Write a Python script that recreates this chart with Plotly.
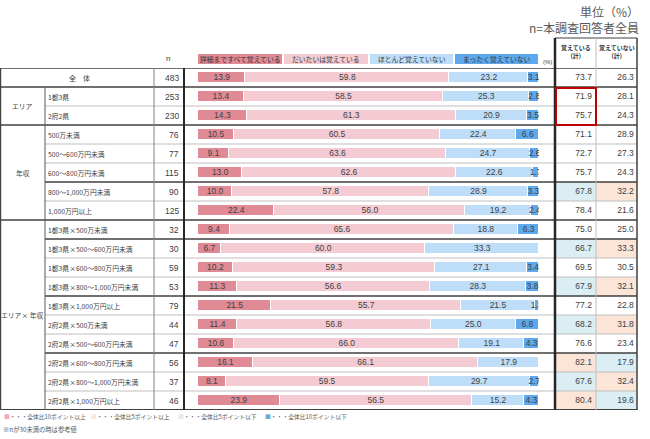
import plotly.graph_objects as go

W, H = 650, 439

labels = ["全　体", "1都3県", "2府2県", "500万未満", "500～600万円未満", "600～800万円未満",
          "800～1,000万円未満", "1,000万円以上",
          "1都3県×500万未満", "1都3県×500～600万円未満", "1都3県×600～800万円未満",
          "1都3県×800～1,000万円未満", "1都3県×1,000万円以上",
          "2府2県×500万未満", "2府2県×500～600万円未満", "2府2県×600～800万円未満",
          "2府2県×800～1,000万円未満", "2府2県×1,000万円以上"]
n_vals = [483, 253, 230, 76, 77, 115, 90, 125, 32, 30, 59, 53, 79, 44, 47, 56, 37, 46]
detail = [13.9, 13.4, 14.3, 10.5, 9.1, 13.0, 10.0, 22.4, 9.4, 6.7, 10.2, 11.3, 21.5, 11.4, 10.6, 16.1, 8.1, 23.9]
mostly = [59.8, 58.5, 61.3, 60.5, 63.6, 62.6, 57.8, 56.0, 65.6, 60.0, 59.3, 56.6, 55.7, 56.8, 66.0, 66.1, 59.5, 56.5]
hardly = [23.2, 25.3, 20.9, 22.4, 24.7, 22.6, 28.9, 19.2, 18.8, 33.3, 27.1, 28.3, 21.5, 25.0, 19.1, 17.9, 29.7, 15.2]
never = [3.1, 2.8, 3.5, 6.6, 2.6, 1.7, 3.3, 2.4, 6.3, 0.0, 3.4, 3.8, 1.3, 6.8, 4.3, 0.0, 2.7, 4.3]
remember_total = [73.7, 71.9, 75.7, 71.1, 72.7, 75.7, 67.8, 78.4, 75.0, 66.7, 69.5, 67.9, 77.2, 68.2, 76.6, 82.1, 67.6, 80.4]
forget_total = [26.3, 28.1, 24.3, 28.9, 27.3, 24.3, 32.2, 21.6, 25.0, 33.3, 30.5, 32.1, 22.8, 31.8, 23.4, 17.9, 32.4, 19.6]
series_names = ["詳細まですべて覚えている", "だいたいは覚えている", "ほとんど覚えていない", "まったく覚えていない"]
series_colors = ["#E08A95", "#F4CBD2", "#BEDDF8", "#5EA8EE"]
groups = [("エリア", 1, 2), ("年収", 3, 7), ("エリア× 年収", 8, 17)]
key_texts = ["・・・全体比10ポイント以上", "・・・全体比5ポイント以上", "・・・全体比5ポイント以下", "・・・全体比10ポイント以下"]
key_colors = ["#F4A7B3", "#FCE4D6", "#DAEEF3", "#6FA8DC"]

FONT = "Liberation Sans, Noto Sans CJK JP, sans-serif"
JFONT = "Noto Sans CJK JP, sans-serif"
TXT = "#404040"

def px(x):
    return x / W

def py(y):
    return 1 - y / H

rows = list(range(len(labels)))
fig = go.Figure()

series = [detail, mostly, hardly, never]
for name, vals, col in zip(series_names, series, series_colors):
    fig.add_trace(go.Bar(y=rows, x=vals, orientation="h", name=name, width=0.62,
                         marker=dict(color=col, line=dict(color="white", width=1.5)),
                         hoverinfo="skip", showlegend=False))

tx, ty, tt = [], [], []
for i in rows:
    cum = 0
    for vals in series:
        v = vals[i]
        if v > 0:
            tx.append(cum + v / 2)
            ty.append(i)
            tt.append(f"{v:.1f}")
        cum += v
fig.add_trace(go.Scatter(x=tx, y=ty, text=tt, mode="text", textposition="middle center",
                         textfont=dict(size=8.5, color=TXT, family=FONT), showlegend=False,
                         hoverinfo="skip"))

def cell_color(v, base):
    d = v - base
    if d >= 10:
        return key_colors[0]
    if d >= 5:
        return key_colors[1]
    if d <= -10:
        return key_colors[3]
    if d <= -5:
        return key_colors[2]
    return "rgba(255,255,255,0)"

c1 = [cell_color(v, remember_total[0]) for v in remember_total]
c2 = [cell_color(v, forget_total[0]) for v in forget_total]
fig.add_trace(go.Bar(y=rows, x=[1] * len(rows), base=[0] * len(rows), orientation="h", width=1,
                     marker=dict(color=c1, line=dict(width=0)), xaxis="x2", showlegend=False,
                     hoverinfo="skip"))
fig.add_trace(go.Bar(y=rows, x=[1] * len(rows), base=[1] * len(rows), orientation="h", width=1,
                     marker=dict(color=c2, line=dict(width=0)), xaxis="x2", showlegend=False,
                     hoverinfo="skip"))
fig.add_trace(go.Scatter(x=[0.9] * len(rows), y=rows, text=[f"{v:.1f}" for v in remember_total],
                         mode="text", textposition="middle left", xaxis="x2", hoverinfo="skip",
                         textfont=dict(size=8.5, color=TXT, family=FONT), showlegend=False))
fig.add_trace(go.Scatter(x=[1.92] * len(rows), y=rows, text=[f"{v:.1f}" for v in forget_total],
                         mode="text", textposition="middle left", xaxis="x2", hoverinfo="skip",
                         textfont=dict(size=8.5, color=TXT, family=FONT), showlegend=False))

shapes = []
ann = []

def note(x, y, text, size, color=TXT, family=JFONT, xanchor="center", yref="paper", yanchor="middle"):
    ann.append(dict(x=x, y=y, xref="paper", yref=yref, text=text, showarrow=False,
                    xanchor=xanchor, yanchor=yanchor,
                    font=dict(size=size, color=color, family=family)))

def hline(y, x0, x1, color, width):
    shapes.append(dict(type="line", xref="paper", yref="y", x0=px(x0), x1=px(x1), y0=y, y1=y,
                       line=dict(color=color, width=width)))

def vline(x, y0, y1, color, width):
    shapes.append(dict(type="line", xref="paper", yref="y", x0=px(x), x1=px(x), y0=y0, y1=y1,
                       line=dict(color=color, width=width)))

thick_after = {0: 0, 2: 0, 5: 45, 7: 0, 8: 45, 11: 45, 14: 45}
for i in rows[:-1]:
    b = i + 0.5
    if i in thick_after:
        hline(b, thick_after[i], 637, "#404040", 1.5)
    else:
        hline(b, 45, 637, "#BFBFBF", 1)
hline(-0.5, 0, 637, "#404040", 1.5)
hline(17.5, 0, 637, "#404040", 2)

vline(0.6, -0.5, 17.5, "#404040", 1.2)
vline(45, 0.5, 17.5, "#595959", 1)
vline(154, -0.5, 17.5, "#808080", 1)
vline(184, -0.5, 17.5, "#262626", 2)
vline(555, -0.5, 17.5, "#262626", 2.5)
vline(596, -0.5, 17.5, "#BFBFBF", 1)
vline(637, -0.5, 17.5, "#404040", 1.5)

for (x0, y0, x1, y1, c, w) in [(555, 38, 637, 38, "#404040", 1.2), (555, 38, 555, 68, "#262626", 2.5),
                               (596, 38, 596, 68, "#BFBFBF", 1), (637, 38, 637, 68, "#404040", 1.5)]:
    shapes.append(dict(type="line", xref="paper", yref="paper", x0=px(x0), x1=px(x1), y0=py(y0), y1=py(y1),
                       line=dict(color=c, width=w)))

shapes.append(dict(type="rect", xref="paper", yref="y", x0=px(556), x1=px(596), y0=0.55, y1=2.5,
                   line=dict(color="#C00000", width=2), fillcolor="rgba(0,0,0,0)"))

box_x = [(198, 282), (284, 368), (370, 453), (455, 538)]
for (x0, x1), name, col in zip(box_x, series_names, series_colors):
    shapes.append(dict(type="rect", xref="paper", yref="paper", x0=px(x0), x1=px(x1), y0=py(64), y1=py(54),
                       line=dict(width=0), fillcolor=col))
    note(px((x0 + x1) / 2), py(59), name, 6.8, color="#333333")
note(px(547), py(62), "(%)", 6, family=FONT)
note(px(168), py(59), "n", 8, family=FONT)
note(px(575.5), py(51), "<b>覚えている<br>(計)</b>", 6, color="#333333")
note(px(616.5), py(51), "<b>覚えていない<br>(計)</b>", 6, color="#333333")
note(px(641), py(12), "単位（%）", 12, color="#595959", xanchor="right")
note(px(641), py(27), "n=本調査回答者全員", 12, color="#595959", xanchor="right")

for i in rows:
    if i == 0:
        note(px(79), i, labels[i], 7, yref="y")
    else:
        note(px(46), i, labels[i], 6.8, yref="y", xanchor="left")
    note(px(181), i, str(n_vals[i]), 8.5, family=FONT, yref="y", xanchor="right")
for g, a, b in groups:
    note(px(22.5), (a + b) / 2, g, 6.8, yref="y")

key_x = [2, 89, 176, 263]
for x, t, c in zip(key_x, key_texts, key_colors):
    note(px(x), py(416), f"<span style='color:{c}'>■</span>{t}", 5.8, color="#595959", xanchor="left")
note(px(1), py(429), "※nが30未満の時は参考値", 6.3, color="#595959", xanchor="left")

fig.update_layout(
    width=W, height=H, margin=dict(l=0, r=0, t=0, b=0),
    paper_bgcolor="white", plot_bgcolor="rgba(0,0,0,0)",
    barmode="stack", bargap=0,
    showlegend=False,
    xaxis=dict(domain=[px(198), px(539)], range=[0, 100], visible=False, fixedrange=True),
    xaxis2=dict(domain=[px(555), px(637)], range=[0, 2], visible=False, anchor="y"),
    yaxis=dict(domain=[py(410), py(68)], range=[17.5, -0.5], visible=False),
    shapes=shapes, annotations=ann,
    font=dict(family=FONT),
)

fig.write_html("out.html", config={"displayModeBar": False},
               post_script="document.body.style.margin='0';document.body.style.overflow='hidden';")
